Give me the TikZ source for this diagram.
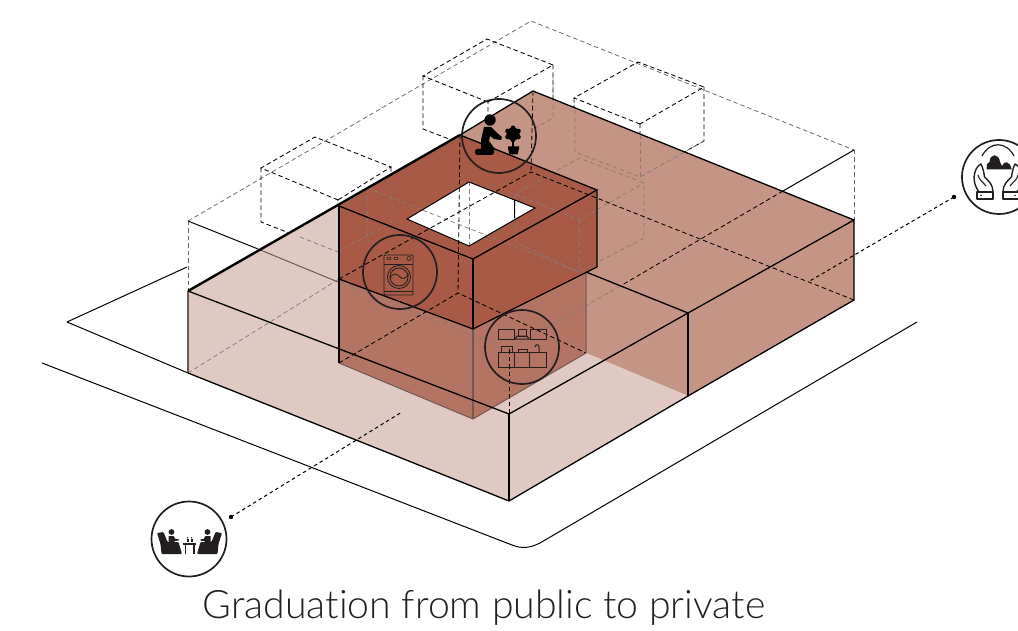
\documentclass[tikz,border=0pt]{standalone}
\usepackage{fontspec}
\setmainfont{Lato}[UprightFont=* Light,Ligatures=NoCommon]
\definecolor{ink}{HTML}{231F20}
\definecolor{lightf}{HTML}{E0C9C2}
\definecolor{midf}{HTML}{C49584}
\definecolor{darkf}{HTML}{A85A46}
\definecolor{lowf}{HTML}{B47463}
\definecolor{edgeg}{HTML}{6F5A52}
\tikzset{
 solidln/.style={draw=black,line width=1.3pt},
 groundln/.style={draw=black,line width=1pt},
 heavyln/.style={draw=black,line width=2.4pt},
 hidden/.style={draw=black,line width=0.85pt,dash pattern=on 4.5pt off 3pt},
 ghost/.style={draw=black!60,line width=0.75pt,dash pattern=on 4.5pt off 3pt},
 ghostb/.style={draw=edgeg!80,line width=0.75pt,dash pattern=on 4.5pt off 3pt},
 leader/.style={draw=black,line width=1pt,dash pattern=on 3.5pt off 3pt},
 ring/.style={draw=ink,line width=1.7pt},
 iconln/.style={draw=ink,line width=0.8pt},
 kitln/.style={draw=ink,line width=1pt},
 handln/.style={draw=ink,line width=1.4pt,line join=round},
}
\begin{document}
\begin{tikzpicture}[x=1pt,y=-1pt]
\useasboundingbox (0,0) rectangle (1018,631);
\fill[white] (0,0) rectangle (1018,631);
% corner coordinates
\coordinate (A) at (188,291); \coordinate (B) at (533,91); \coordinate (C) at (854,220);
\coordinate (D) at (854,300); \coordinate (E) at (688,396); \coordinate (F) at (509,501);
\coordinate (G) at (188,373); \coordinate (H) at (509,414); \coordinate (I) at (688,313);
\coordinate (Ta) at (188,221); \coordinate (Tb) at (531,21); \coordinate (Tc) at (854,150); \coordinate (Td) at (509,349);
\coordinate (Te) at (258,249); \coordinate (Tf) at (338,282); \coordinate (Tg) at (783,191); \coordinate (Th) at (622,285);
\coordinate (Ba) at (531,172);
\coordinate (P) at (339,206); \coordinate (Q) at (460,135); \coordinate (R) at (597,190); \coordinate (S) at (473,259);
\coordinate (P2) at (339,279); \coordinate (S2) at (473,329); \coordinate (R2) at (597,267); \coordinate (R3) at (586,272);
\coordinate (P3) at (339,363); \coordinate (S3) at (473,419); \coordinate (R4) at (586,353); \coordinate (Q3) at (458,293);
% ground
\draw[groundln] (67,322) -- (187,267);
\draw[groundln] (67,322) -- (G);
\draw[groundln] (42,363) -- (512,545) .. controls (522,549) and (530,548) .. (540,543) -- (917,322);
% ghost volume, above the fills
\draw[ghost] (Ta) -- (Tb) -- (Tc);
\draw[ghost] (Ta) -- (A);
\draw[ghost] (Tc) -- (C);
\draw[groundln] (Ta) -- (Te);
\draw[groundln] (Tc) -- (Tg);
% ghost boxes outside the solids
\draw[hidden] (338,200) -- (261,168) -- (315,137) -- (391,167) -- cycle;
\draw[hidden] (261,168) -- (261,222) -- (338,252) -- (338,200);
\draw[hidden] (391,167) -- (392,222) -- (338,252);
\draw[hidden] (488,102) -- (423,76) -- (487,39) -- (553,65) -- cycle;
\draw[hidden] (423,76) -- (423,129) -- (488,154) -- (488,102);
\draw[hidden] (553,65) -- (553,118) -- (488,154);
\draw[hidden] (640,124) -- (574,98) -- (638,62) -- (704,87) -- cycle;
\draw[hidden] (574,98) -- (575,152) -- (640,177) -- (640,124);
\draw[hidden] (704,87) -- (704,141) -- (640,177);
% fills
\fill[midf] (Q) -- (B) -- (C) -- (D) -- (E) -- (R4) -- (R3) -- (R) -- cycle;
\fill[lightf] (A) -- (P) -- (P3) -- (S3) -- (R4) -- (E) -- (F) -- (G) -- cycle;
\fill[lowf] (P2) -- (S2) -- (R3) -- (R4) -- (S3) -- (P3) -- cycle;
\fill[darkf] (P) -- (Q) -- (R) -- (R2) -- (S2) -- (P2) -- cycle;
\fill[white] (469,182) -- (535,208) -- (469,246) -- (407,219) -- cycle;
% ghost lines seen through the solids
\draw[groundln,draw=edgeg] (Te) -- (Tf);
\draw[ghostb] (Tf) -- (Td) -- (Th);
\draw[ghostb] (338,252) -- (338,206);
\draw[ghostb] (338,252) -- (392,222) -- (392,192);
\draw[ghostb] (300,237) -- (338,252);
\draw[ghostb] (367,188) -- (368,243);
\draw[ghostb] (367,188) -- (579,272);
\draw[ghostb] (469,182) -- (469,246);
\draw[ghostb] (515,194) -- (515,242) -- (579,272) -- (644,238) -- (644,183) -- (579,158) -- (515,194) -- (579,220) -- (644,183);
\draw[ghostb] (579,220) -- (579,272);
\draw[ghostb] (575,110) -- (575,152) -- (640,177) -- (704,141);
\draw[ghostb] (640,135) -- (640,177);
\draw[ghostb] (553,75) -- (553,118) -- (532,130);
\draw[ghostb] (G) -- (P2);
\draw[black,line width=0.9pt] (514.5,200) -- (514.5,218);
% hidden lines of the base and the boxes
\draw[hidden] (P2) -- (Ba) -- (D);
\draw[hidden] (B) -- (Ba);
\draw[hidden] (Q) -- (Q3);
\draw[hidden] (P3) -- (Q3) -- (R4);
\draw[hidden] (Td) -- (H);
\draw[hidden] (Tg) -- (Th);
% solid edges
\draw[solidln,draw=edgeg] (G) -- (A);
\draw[groundln,draw=edgeg] (P3) -- (S3) -- (R4) -- (R3);
\draw[solidln,draw=edgeg] (S2) -- (S3);
\draw[solidln] (P) -- (P3);
\draw[solidln] (P) -- (S) -- (R) -- (Q);
\draw[solidln] (S) -- (S2);
\draw[solidln] (P2) -- (S2) -- (R2) -- (R);
\draw[groundln] (469,182) -- (535,208) -- (469,246) -- (407,219) -- cycle;
\draw[solidln] (A) -- (H) -- (I) -- (C) -- (D) -- (E) -- (F) -- (G);
\draw[solidln] (H) -- (F);
\draw[solidln] (I) -- (E);
\draw[solidln] (R3) -- (I);
\draw[solidln] (Q) -- (B) -- (C);
\draw[heavyln] (A) -- (Q);
% leaders
\coordinate (La) at (231,517); \coordinate (Lb) at (402,412);
\coordinate (Lc) at (954,197); \coordinate (Ld) at (808,282);
\draw[leader] (La) -- (Lb);
\draw[leader] (Lc) -- (Ld);
\fill[black] (La) circle (2.2); \fill[black] (Lc) circle (2.2);
% rings
\node[circle,ring,minimum size=74pt,inner sep=0pt] (plantring) at (499,136) {};
\node[circle,ring,minimum size=74pt,inner sep=0pt] (washring) at (400,272) {};
\node[circle,ring,minimum size=74pt,inner sep=0pt] (kitchring) at (522,347) {};
\node[circle,ring,minimum size=75pt,inner sep=0pt] (sofaring) at (189,539) {};
\node[circle,ring,minimum size=74pt,inner sep=0pt] (handring) at (999,177) {};
% gardener
\fill[black] (490,120) circle (5.7);
\fill[black,line join=round] (484,127) -- (491,127) -- (497,133) -- (502,137) -- (501,140) -- (494,139) -- (490,136) -- (489,141) -- (495,149) -- (493,151) -- (481,151) -- (481,140) -- cycle;
\fill[black,rounded corners=2.5pt] (475,149) rectangle (494,155);
\fill[black] (513,134) circle (6.6);
\foreach \ax/\ay in {513/127.8, 507.5/131, 518.5/131, 507.5/137, 518.5/137, 513/140}{\fill[black] (\ax,\ay) circle (2.3);}
\draw[black,line width=1.2pt] (513,140) -- (513,148);
\fill[black] (508,146.5) -- (519,146.5) -- (519,148.5) -- (517.5,154.5) -- (509.5,154.5) -- (508,148.5) -- cycle;
% washing machine
\draw[iconln,rounded corners=1pt] (384,255) rectangle (413,295);
\draw[iconln] (384,264) -- (413,264);
\draw[iconln] (384,291) -- (413,291);
\draw[iconln] (399,277) circle (11.5); \draw[iconln] (399,277) circle (9);
\draw[iconln] (390,278) .. controls (394,272) and (397,274) .. (400,277) .. controls (403,280) and (406,278) .. (409,274);
\draw[iconln,line width=0.6pt] (389,258.5) ellipse (2 and 1.4); \draw[iconln,line width=0.6pt] (396,258.5) ellipse (2 and 1.4);
\draw[iconln,line width=0.6pt] (409,258.5) circle (2);
% kitchen
\draw[kitln] (498,329) rectangle (514,339);
\draw[kitln] (530,329) rectangle (546,339);
\draw[kitln] (518,329) rectangle (526,336);
\draw[kitln] (515,339) -- (517,336) -- (527,336) -- (529,339) -- cycle;
\draw[kitln] (498,352) rectangle (546,367);
\draw[kitln] (514,352) -- (514,367); \draw[kitln] (529,352) -- (529,367);
\draw[kitln] (501,346) rectangle (512,352);
\draw[kitln] (518.5,349) rectangle (527,352);
\draw[kitln] (535,347) .. controls (535,344) and (539,344) .. (539,347) -- (539,352);
% sofa icon
\begin{scope}[shift={(189,539)}]
 \foreach \m in {1,-1}{
 \begin{scope}[shift={(0.5,0)},xscale=\m]
  \fill[ink,rounded corners=1pt] (-32.5,-6) -- (-26,-7) -- (-22,3) -- (-11,3) -- (-7.5,15) -- (-28,15) -- (-29,5) -- cycle;
  \fill[ink] (-18,-7) circle (2.9);
  \fill[ink] (-21,-3) -- (-16,-3) -- (-14,0) -- (-11,0) -- (-11,1.6) -- (-15,2) -- (-15,3.5) -- (-21,3.5) -- cycle;
 \end{scope}}
 \fill[ink] (-6,4) rectangle (7,6);
 \fill[ink] (-4.5,6) rectangle (-3.3,15);
 \fill[ink] (4.3,6) rectangle (5.5,15);
 \fill[ink] (-2.4,0) rectangle (-0.4,2.5);
 \fill[ink] (1.6,0) rectangle (3.6,2.5);
 \fill[ink] (-1.4,-1.3) circle (0.8);
 \fill[ink] (2.6,-1.3) circle (0.8);
\end{scope}
% hands icon
\begin{scope}[shift={(998,177)}]
 \draw[ink,line width=1.2pt] (-16,-21) .. controls (-8,-36) and (8,-36) .. (16,-21);
 \fill[ink] (-11.5,-7.7) -- (-11,-13) -- (-8.5,-15) .. controls (-8,-24) and (1,-24) .. (2,-15) -- (4,-11) .. controls (6,-17) and (12,-16) .. (13.7,-7.7) -- cycle;
 \foreach \m in {1,-1}{
 \begin{scope}[xscale=\m]
  \draw[handln] (-19,15) .. controls (-24,8) and (-25,1) .. (-23,-5) .. controls (-22,-9) and (-19,-12) .. (-17,-13) .. controls (-15,-9) and (-14,-4) .. (-13.5,0) .. controls (-9,4) and (-5,8) .. (-5,15);
  \draw[handln,line width=1.1pt] (-20,-2) .. controls (-19,3) and (-15,5) .. (-12,9);
  \draw[handln] (-21,15) rectangle (-5,22);
  \fill[ink] (-17,18.5) circle (0.8);
 \end{scope}}
\end{scope}
% title
\node[text=ink,font=\fontsize{39.2}{46}\selectfont,anchor=base] (title) at (484,618) {Graduation from public to private};
\end{tikzpicture}
\end{document}
